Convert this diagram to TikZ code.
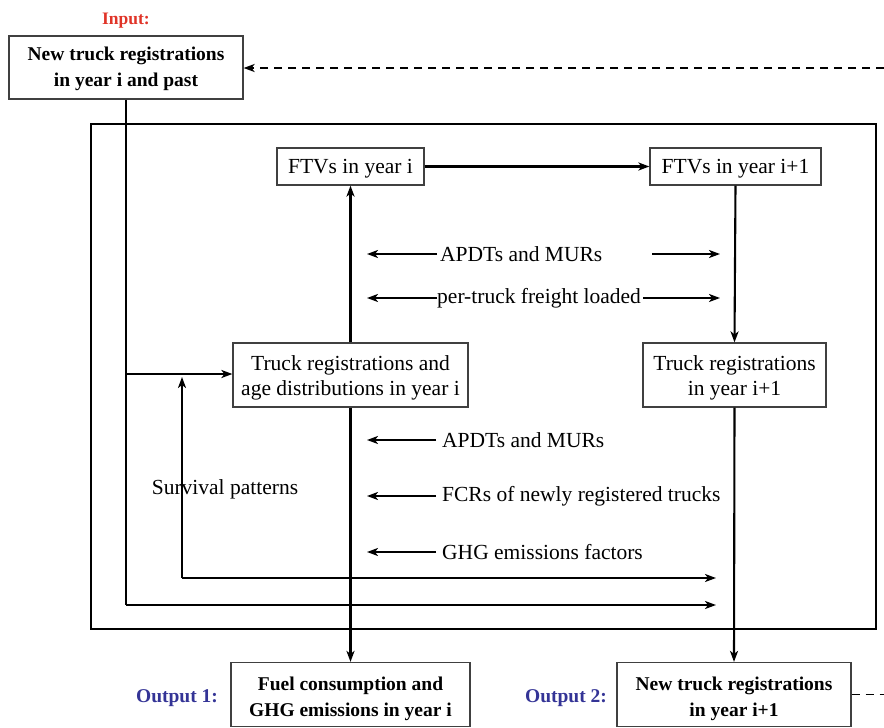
\documentclass[tikz,border=0pt]{standalone}
\usepackage{fontspec}
\setmainfont{Liberation Serif}
\usetikzlibrary{arrows.meta,calc}
\definecolor{inred}{RGB}{224,52,40}
\definecolor{outblue}{RGB}{52,52,150}
\newcommand\dstrut[1]{\rule{0pt}{#1}}
\begin{document}
\begin{tikzpicture}[x=1pt,y=-1pt,
  every node/.style={font=\fontsize{21.5}{25}\selectfont},
  box/.style={draw=black!75, line width=1.2pt, align=center, inner sep=0pt},
  bbox/.style={box, font=\fontsize{19.5}{25.5}\selectfont\bfseries},
  conn/.style={line width=2.1pt, -{Stealth[length=11pt,width=8pt,inset=3pt]}},
  thinline/.style={line width=1.1pt},
  lbl/.style={anchor=west, inner sep=0pt},
  dashln/.style={line width=1.9pt, dash pattern=on 8pt off 6pt}
]
\useasboundingbox (0,0) rectangle (884,728);
% frame
\draw[line width=2.8pt] (91,124) rectangle (876,629);

% input
\node[font=\fontsize{17.5}{20}\selectfont\bfseries, text=inred, anchor=base] (inlbl) at (126,24) {Input:};
\node[bbox, minimum width=234pt, minimum height=63pt] (inp) at (126,67.5) {\dstrut{16.5pt}New truck registrations\\in year i and past};
\coordinate (dashR) at (884,68);
\draw[dashln, -{Stealth[length=11pt,width=8pt,inset=3pt]}] (dashR) -- (inp.east |- dashR);

% top boxes
\node[box, minimum width=147pt, minimum height=37pt] (ftvi) at (350.5,166.5) {\dstrut{18.7pt}FTVs in year i};
\node[box, minimum width=171pt, minimum height=37pt] (ftvj) at (735.5,166.5) {\dstrut{18.7pt}FTVs in year i+1};
\draw[conn] (ftvi.east) -- (ftvj.west);

% middle boxes
\node[box, minimum width=235pt, minimum height=64pt] (tri) at (350.5,375) {\dstrut{20.7pt}Truck registrations and\\age distributions in year i};
\node[box, minimum width=183pt, minimum height=64pt] (trj) at (734.5,375) {\dstrut{20.7pt}Truck registrations\\in year i+1};

% outputs
\node[bbox, minimum width=239pt, minimum height=64pt] (out1) at (350.5,694.5) {\dstrut{22pt}Fuel consumption and\\GHG emissions in year i};
\node[bbox, minimum width=234pt, minimum height=64pt] (out2) at (734,694.5) {\dstrut{22pt}New truck registrations\\in year i+1};
\node[font=\fontsize{19.5}{22}\selectfont\bfseries, text=outblue, anchor=base] (o1lbl) at (177,702) {Output 1:};
\node[font=\fontsize{19.5}{22}\selectfont\bfseries, text=outblue, anchor=base] (o2lbl) at (566,702) {Output 2:};
\coordinate (dashR2) at (884,694.5);
\draw[dashln] (out2.east) -- (dashR2);

% vertical flows
\draw[conn] (tri.north) -- (ftvi.south);
\draw[conn] (ftvj.south) -- (trj.north);
\draw[conn] (tri.south) -- (out1.north);
\draw[conn] (trj.south) -- (out2.north);

% upper labels
\node[lbl] (apdt1) at (440,254) {APDTs and MURs};
\node[lbl] (ptf) at (437,298) {per-truck freight loaded};
\coordinate (a1L) at (367,254);
\coordinate (a1R) at (720,254);
\coordinate (a1S) at (652,254);
\coordinate (pL) at (367,298);
\coordinate (pR) at (720,298);
\coordinate (pS) at (ptf.east);
\draw[conn] ($(apdt1.west)+(-3,0)$) -- (a1L);
\draw[conn] (a1S) -- (a1R);
\draw[conn] (ptf.west) -- (pL);
\draw[conn] ($(pS)+(2,0)$) -- (pR);

% lower labels
\node[lbl] (apdt2) at (442,440) {APDTs and MURs};
\node[lbl] (fcr) at (442,496) {FCRs of newly registered trucks};
\node[lbl] (ghg) at (442,552) {GHG emissions factors};
\coordinate (a2L) at (367,440);
\coordinate (fL) at (367,496);
\coordinate (gL) at (367,552);
\draw[conn] ($(apdt2.west)+(-6,0)$) -- (a2L);
\draw[conn] ($(fcr.west)+(-6,0)$) -- (fL);
\draw[conn] ($(ghg.west)+(-6,0)$) -- (gL);

% input line and survival
\coordinate (inB) at (126,605);
\coordinate (inE) at (716,605);
\draw[thinline] (inp.south -| inB) -- (inB);
\draw[conn] (inB) -- (inE);
\draw[conn] (126,374) -- (tri.west |- 0,374);
\node[anchor=base] (surv) at (225,494) {Survival patterns};
\coordinate (sB) at (182,578);
\coordinate (sT) at (182,377);
\coordinate (sE) at (716,578);
\draw[conn] (sB) -- (sT);
\draw[conn] (sB) -- (sE);
\end{tikzpicture}
\end{document}
